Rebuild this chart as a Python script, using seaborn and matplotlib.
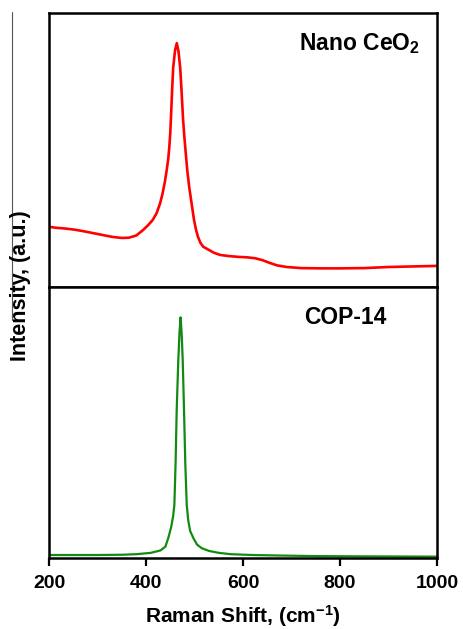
import matplotlib
matplotlib.use("Agg")
import matplotlib.pyplot as plt
from matplotlib.lines import Line2D
import seaborn as sns
import pandas as pd

# ---- data ----
ceo2_shift = [200, 215, 230, 250, 270, 290, 310, 330, 350, 365,
              380, 394, 404, 414, 422, 429, 434, 439, 443, 446,
              448, 450, 452, 454, 456, 460, 463.5, 467, 470.5, 472.5,
              474.5, 476.5, 479, 482, 485, 489, 494, 499, 503, 507,
              512, 518, 530, 540, 553, 570, 590, 610, 625, 640,
              655, 670, 690, 720, 760, 800, 850, 900, 950, 1000]
ceo2_int = [22.0, 21.6, 21.4, 21.0, 20.4, 19.7, 19.0, 18.3, 17.9, 18.0,
            18.8, 20.8, 22.5, 24.5, 27.0, 30.5, 34, 38.5, 43, 47,
            51, 56, 64, 72.5, 80, 86.5, 89, 86, 80, 74,
            67.6, 61, 55, 48.8, 42.7, 36.6, 30.5, 24.5, 21, 18.4,
            16.2, 14.7, 13.5, 12.5, 11.7, 11.3, 11.0, 10.8, 10.5, 9.8,
            8.8, 7.9, 7.3, 6.9, 6.8, 6.8, 6.9, 7.3, 7.5, 7.7]

cop_shift = [200, 250, 300, 350, 380, 410, 430, 440, 446, 452,
             456, 458.5, 461, 463.3, 466.6, 469, 471.3, 473.5, 475.7, 478.4,
             481, 484, 487, 491, 497.5, 505, 515, 530, 550, 575,
             620, 680, 750, 850, 1000]
cop_int = [1.1, 1.1, 1.1, 1.2, 1.4, 1.9, 2.8, 4.2, 7.4, 11.5,
           15.5, 19.6, 35, 54.6, 73, 83, 88.8, 83, 73, 54.6,
           35, 19.6, 14, 10, 7.4, 5.0, 3.6, 2.6, 1.9, 1.4,
           1.1, 0.9, 0.7, 0.6, 0.5]

x_ticks = [200, 400, 600, 800, 1000]
label_top = "Nano CeO$_\\mathbf{2}$"
label_bottom = "COP-14"
x_label = "Raman Shift, (cm$^{\\mathbf{-1}}$)"
y_label = "Intensity, (a.u.)"

sns.set_theme(style="white")
plt.rcParams["font.family"] = ["Liberation Sans", "DejaVu Sans"]
plt.rcParams["mathtext.fontset"] = "custom"
plt.rcParams["mathtext.rm"] = "Liberation Sans"
plt.rcParams["mathtext.bf"] = "Liberation Sans:bold"
plt.rcParams["mathtext.default"] = "bf"
plt.rcParams["text.color"] = "black"
plt.rcParams["axes.labelcolor"] = "black"
plt.rcParams["xtick.color"] = "black"
plt.rcParams["xtick.labelcolor"] = "black"

df_top = pd.DataFrame({"shift": ceo2_shift, "intensity": ceo2_int})
df_bot = pd.DataFrame({"shift": cop_shift, "intensity": cop_int})

fig = plt.figure(figsize=(4.63, 6.29), dpi=100)
gs = fig.add_gridspec(2, 1, height_ratios=[274, 271], hspace=0,
                      left=49 / 463, right=437 / 463,
                      top=1 - 13 / 629, bottom=1 - 558 / 629)
ax1 = fig.add_subplot(gs[0])
ax2 = fig.add_subplot(gs[1], sharex=ax1)

sns.lineplot(data=df_top, x="shift", y="intensity", ax=ax1,
             color="#ff0000", linewidth=1.9)
sns.lineplot(data=df_bot, x="shift", y="intensity", ax=ax2,
             color="#128a12", linewidth=1.6)

for ax in (ax1, ax2):
    ax.set_ylim(0, 100)
    ax.set_yticks([])
    ax.set_ylabel("")
    ax.set_xlabel("")
    for s in ax.spines.values():
        s.set_color("black")
        s.set_linewidth(1.8)

ax1.set_xlim(200, 1000)
ax2.set_xticks(x_ticks)
ax2.set_xticklabels([str(t) for t in x_ticks])
ax1.tick_params(axis="x", bottom=False, labelbottom=False)
ax2.tick_params(axis="x", bottom=True, direction="out", length=6, width=1.6,
                color="black", labelcolor="black", labelsize=14, pad=6)
for lab in ax2.get_xticklabels():
    lab.set_fontweight("bold")

ax2.set_xlabel(x_label, fontsize=15, fontweight="bold", labelpad=8.5,
               color="black")

ax1.text(0.644, 0.865, label_top, transform=ax1.transAxes, ha="left",
         va="baseline", fontsize=16.5, fontweight="bold", color="black")
ax2.text(0.657, 0.863, label_bottom, transform=ax2.transAxes, ha="left",
         va="baseline", fontsize=16.5, fontweight="bold", color="black")

fig.text(21 / 463, 1 - 286 / 629, y_label, rotation=90, ha="center",
         va="center", fontsize=15.5, fontweight="bold", color="black")

# thin vertical rule at the far left of the reference
fig.add_artist(Line2D([12.3 / 463, 12.3 / 463], [1 - 12 / 629, 1 - 320 / 629],
                      transform=fig.transFigure, color="#555555", linewidth=0.8))

fig.savefig("out.png", dpi=100)
